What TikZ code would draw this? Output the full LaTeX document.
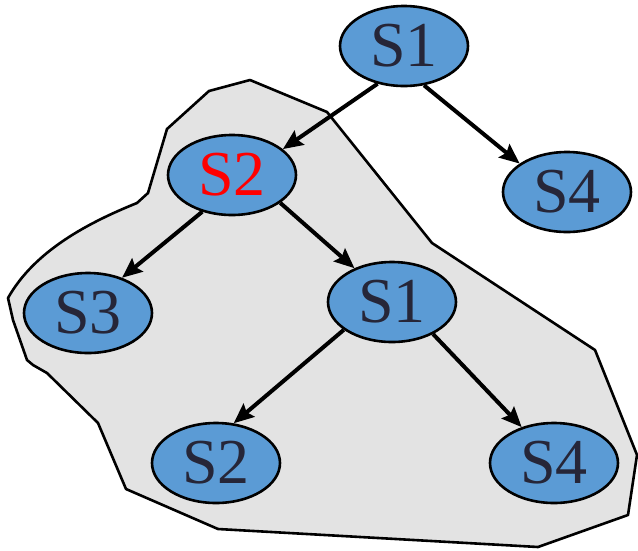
\documentclass[tikz,border=0pt]{standalone}
\usepackage{fontspec}
\setmainfont{Liberation Serif}
\usetikzlibrary{shapes.geometric, arrows.meta}
\definecolor{nodeblue}{HTML}{5B9BD5}
\definecolor{blobgray}{HTML}{E3E3E3}
\definecolor{labelnavy}{HTML}{262638}
\tikzset{
  statenode/.style={ellipse, draw=black, line width=2.6pt, fill=nodeblue, minimum width=128pt, minimum height=80pt, inner sep=0pt, text=labelnavy, font=\fontsize{64}{64}\selectfont\rmfamily},
  treeedge/.style={line width=4pt, -{Stealth[length=20pt,width=17pt,inset=3pt]}}
}
\begin{document}
\begin{tikzpicture}[x=1pt,y=-1pt]
\useasboundingbox (0,0) rectangle (638,550);

% shaded region
\draw[fill=blobgray, line width=2.6pt, line join=round] (8,298) -- (13,320) -- (27,360) -- (33,365) -- (47,373) -- (98,423) -- (126,489) -- (218,529) -- (538,547) -- (628,515) -- (637,455) -- (595,350) -- (432,243) -- (327,112) -- (250,80) -- (209,91) -- (167,129) -- (148,193) -- (137,203) .. controls (90,222) and (35,250) .. (8,298) -- cycle;

% states
\node[statenode] (topOne) at (404,46) {S1};
\node[statenode, text=red] (leftTwo) at (232,175) {S2};
\node[statenode] (topFour) at (567,192) {S4};
\node[statenode] (leftThree) at (88,313) {S3};
\node[statenode] (midOne) at (392,302) {S1};
\node[statenode] (lowTwo) at (216,463) {S2};
\node[statenode] (lowFour) at (554,463) {S4};

% transitions
\draw[treeedge] (topOne.235) -- (leftTwo.27);
\draw[treeedge] (topOne.297) -- (topFour.149);
\draw[treeedge] (leftTwo.231) -- (leftThree.46);
\draw[treeedge] (leftTwo.330) -- (midOne.138);
\draw[treeedge] (midOne.210) -- (lowTwo.66);
\draw[treeedge] (midOne.322) -- (lowFour.132);

\end{tikzpicture}
\end{document}
